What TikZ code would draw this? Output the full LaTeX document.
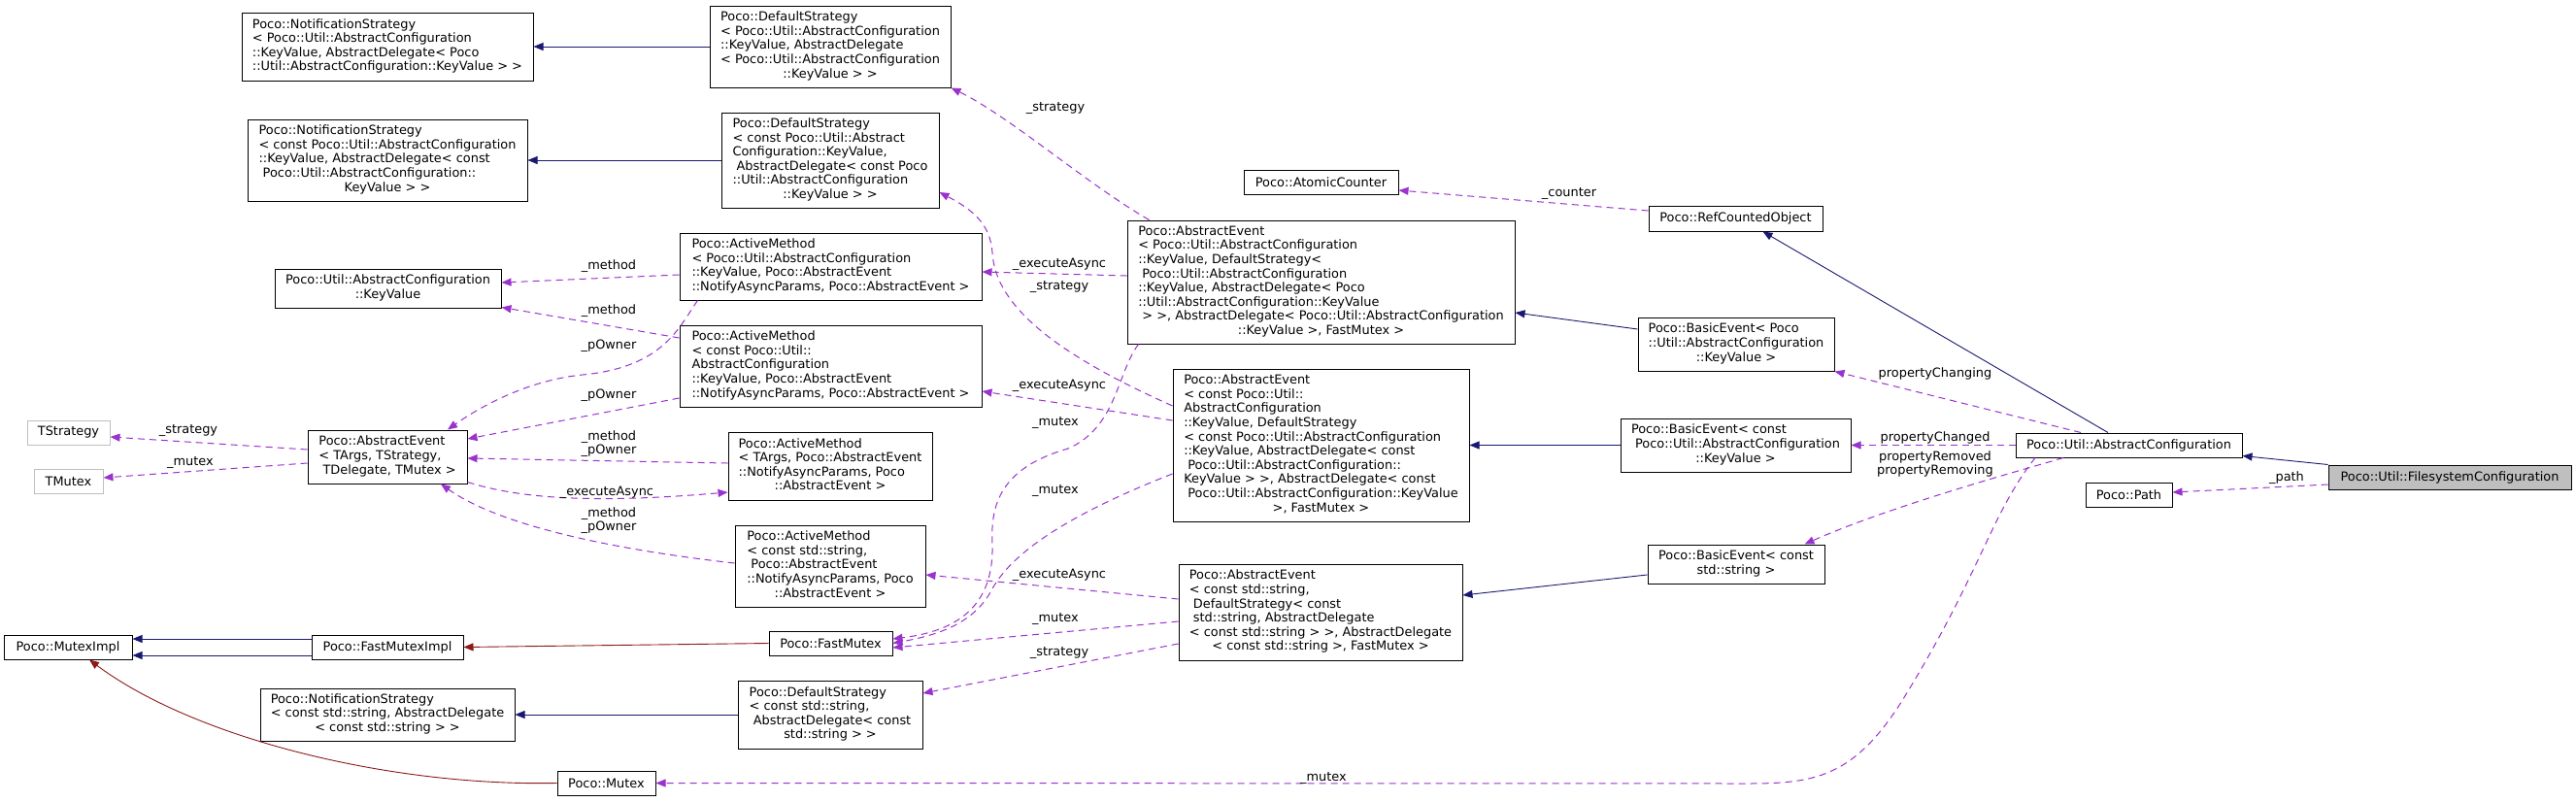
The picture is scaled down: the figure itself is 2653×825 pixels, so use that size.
\documentclass[tikz,border=0pt]{standalone}
\usepackage{fontspec}
\setmainfont{DejaVu Sans}
\usetikzlibrary{arrows.meta,calc}
\definecolor{edgeblue}{RGB}{25,25,112}
\definecolor{edgered}{RGB}{139,26,26}
\definecolor{edgepurple}{RGB}{154,50,205}
\definecolor{grayb}{RGB}{191,191,191}
\newcommand\lc[1]{\multicolumn{1}{@{}c@{}}{#1}}
\newcommand\tb[1]{\begin{tabular}{@{}l@{}}#1\end{tabular}}
\tikzset{
  cls/.style={draw=black, line width=1pt, fill=white, inner sep=0pt, font=\fontsize{12.9}{14.6}\selectfont},
  ext/.style={cls, draw=grayb},
  lbl/.style={inner sep=0pt, font=\fontsize{12.9}{14}\selectfont, align=center},
  inh/.style={draw=edgeblue, line width=0.9pt, -{Triangle[length=10pt,width=8pt]}},
  priv/.style={draw=edgered, line width=0.9pt, -{Triangle[length=10pt,width=8pt]}},
  use/.style={draw=edgepurple, line width=1pt, dash pattern=on 7pt off 5pt, -{Triangle[length=10pt,width=8pt]}},
}
\begin{document}
\begin{tikzpicture}[x=1pt,y=-1pt]
\useasboundingbox (0,0) rectangle (2653,825);
\fill[white] (0,0) rectangle (2653,825);
% column 1
\node[cls, minimum width=300pt, minimum height=70pt] (NS1) at (399,48) {\tb{Poco::NotificationStrategy\\< Poco::Util::AbstractConfiguration\\::KeyValue, AbstractDelegate< Poco\\::Util::AbstractConfiguration::KeyValue > >}};
\node[cls, minimum width=288pt, minimum height=84pt] (NS2) at (399,165) {\tb{Poco::NotificationStrategy\\< const Poco::Util::AbstractConfiguration\\::KeyValue, AbstractDelegate< const\\\ Poco::Util::AbstractConfiguration::\\\lc{KeyValue > >}}};
\node[cls, minimum width=233pt, minimum height=40pt] (KV) at (399.5,297) {\tb{Poco::Util::AbstractConfiguration\\\lc{::KeyValue}}};
\node[ext, minimum width=85pt, minimum height=25pt] (TS) at (70.5,445.5) {TStrategy};
\node[ext, minimum width=71pt, minimum height=25pt] (TM) at (70.5,496) {TMutex};
\node[cls, minimum width=164pt, minimum height=55pt] (AET) at (399,470.5) {\tb{Poco::AbstractEvent\\< TArgs, TStrategy,\\\lc{\ TDelegate, TMutex >}}};
\node[cls, minimum width=132pt, minimum height=25pt] (MI) at (70,666.5) {Poco::MutexImpl};
\node[cls, minimum width=156pt, minimum height=25pt] (FMI) at (399,666.5) {Poco::FastMutexImpl};
\node[cls, minimum width=262pt, minimum height=54pt] (NS3) at (399,736) {\tb{Poco::NotificationStrategy\\< const std::string, AbstractDelegate\\\lc{< const std::string > >}}};
\node[cls, minimum width=101pt, minimum height=25pt] (MX) at (624.5,806.5) {Poco::Mutex};
% column 2
\node[cls, minimum width=248pt, minimum height=84pt] (DS1) at (855,48) {\tb{Poco::DefaultStrategy\\< Poco::Util::AbstractConfiguration\\::KeyValue, AbstractDelegate\\< Poco::Util::AbstractConfiguration\\\lc{::KeyValue > >}}};
\node[cls, minimum width=224pt, minimum height=98pt] (DS2) at (855,165) {\tb{Poco::DefaultStrategy\\< const Poco::Util::Abstract\\Configuration::KeyValue,\\\ AbstractDelegate< const Poco\\::Util::AbstractConfiguration\\\lc{::KeyValue > >}}};
\node[cls, minimum width=311pt, minimum height=69pt] (AM1) at (855.5,274.5) {\tb{Poco::ActiveMethod\\< Poco::Util::AbstractConfiguration\\::KeyValue, Poco::AbstractEvent\\::NotifyAsyncParams, Poco::AbstractEvent >}};
\node[cls, minimum width=311pt, minimum height=84pt] (AM2) at (855.5,377) {\tb{Poco::ActiveMethod\\< const Poco::Util::\\AbstractConfiguration\\::KeyValue, Poco::AbstractEvent\\::NotifyAsyncParams, Poco::AbstractEvent >}};
\node[cls, minimum width=210pt, minimum height=70pt] (AM3) at (855,480) {\tb{Poco::ActiveMethod\\< TArgs, Poco::AbstractEvent\\::NotifyAsyncParams, Poco\\\lc{::AbstractEvent >}}};
\node[cls, minimum width=196pt, minimum height=84pt] (AM4) at (855,583) {\tb{Poco::ActiveMethod\\< const std::string,\\\ Poco::AbstractEvent\\::NotifyAsyncParams, Poco\\\lc{::AbstractEvent >}}};
\node[cls, minimum width=127pt, minimum height=25pt] (FM) at (855.5,662.5) {Poco::FastMutex};
\node[cls, minimum width=190pt, minimum height=70pt] (DS3) at (855,736) {\tb{Poco::DefaultStrategy\\< const std::string,\\\ AbstractDelegate< const\\\lc{std::string > >}}};
% column 3
\node[cls, minimum width=159pt, minimum height=25pt] (ACN) at (1360.5,188) {Poco::AtomicCounter};
\node[cls, minimum width=399pt, minimum height=127pt] (AE1) at (1360.5,290.5) {\tb{Poco::AbstractEvent\\< Poco::Util::AbstractConfiguration\\::KeyValue, DefaultStrategy<\\\ Poco::Util::AbstractConfiguration\\::KeyValue, AbstractDelegate< Poco\\::Util::AbstractConfiguration::KeyValue\\\ > >, AbstractDelegate< Poco::Util::AbstractConfiguration\\\lc{::KeyValue >, FastMutex >}}};
\node[cls, minimum width=305pt, minimum height=157pt] (AE2) at (1360.5,458.5) {\tb{Poco::AbstractEvent\\< const Poco::Util::\\AbstractConfiguration\\::KeyValue, DefaultStrategy\\< const Poco::Util::AbstractConfiguration\\::KeyValue, AbstractDelegate< const\\\ Poco::Util::AbstractConfiguration::\\KeyValue > >, AbstractDelegate< const\\\ Poco::Util::AbstractConfiguration::KeyValue\\\lc{>, FastMutex >}}};
\node[cls, minimum width=292pt, minimum height=99pt] (AE3) at (1360,630.5) {\tb{Poco::AbstractEvent\\< const std::string,\\\ DefaultStrategy< const\\\ std::string, AbstractDelegate\\< const std::string > >, AbstractDelegate\\\lc{< const std::string >, FastMutex >}}};
% column 4
\node[cls, minimum width=179pt, minimum height=26pt] (RCO) at (1787.5,225) {Poco::RefCountedObject};
\node[cls, minimum width=202pt, minimum height=55pt] (BE1) at (1788,354.5) {\tb{Poco::BasicEvent< Poco\\::Util::AbstractConfiguration\\\lc{::KeyValue >}}};
\node[cls, minimum width=237pt, minimum height=55pt] (BE2) at (1787.5,458.5) {\tb{Poco::BasicEvent< const\\\ Poco::Util::AbstractConfiguration\\\lc{::KeyValue >}}};
\node[cls, minimum width=182pt, minimum height=40pt] (BE3) at (1788,581) {\tb{Poco::BasicEvent< const\\\lc{std::string >}}};
% column 5/6
\node[cls, minimum width=233pt, minimum height=25pt] (AC) at (2192.5,458.5) {Poco::Util::AbstractConfiguration};
\node[cls, minimum width=89pt, minimum height=25pt] (PA) at (2192.5,509.5) {Poco::Path};
\node[cls, fill=grayb, minimum width=250pt, minimum height=25pt] (FC) at (2523,491.5) {Poco::Util::FilesystemConfiguration};

% inheritance edges
\draw[inh] (DS1.west) -- (NS1.east);
\draw[inh] (DS2.west) -- (NS2.east);
\draw[inh] (DS3.west) -- (NS3.east);
\draw[inh] ($(BE1.west)+(0,-15.5)$) -- ($(AE1.east)+(0,31.5)$);
\draw[inh] (BE2.west) -- (AE2.east);
\draw[inh] ($(BE3.west)+(0,11)$) -- ($(AE3.east)+(0,-17.5)$);
\draw[inh] ($(AC.north)+(-21.5,0)$) -- ($(RCO.south)+(28,0)$);
\draw[inh] (FC.north west) -- ($(AC.south east)+(0,-2)$);
\draw[inh] ($(FMI.west)+(0,-8.5)$) -- ($(MI.east)+(0,-8.5)$);
\draw[inh] ($(FMI.west)+(0,8.5)$) -- ($(MI.east)+(0,8.5)$);
\draw[priv] (FM.west) -- (FMI.east);
\draw[priv] (MX.west) .. controls (400,810) and (200,760) .. ($(MI.south)+(22,0)$);

% usage edges
\draw[use] ($(AET.west)+(0,-7.5)$) -- ($(TS.east)+(0,4.5)$);
\draw[use] ($(AET.west)+(0,6.5)$) -- ($(TM.east)+(0,-4)$);
\draw[use] ($(AM1.west)+(0,8.5)$) -- ($(KV.east)+(0,-6)$);
\draw[use] ($(AM2.west)+(0,-29)$) -- ($(KV.south east)+(0,-1)$);
\draw[use] ($(AM1.south west)+(19,0)$) .. controls (700,335) and (685,378) .. (600,386) .. controls (540,392) and (490,422) .. ($(AET.north)+(62,0)$);
\draw[use] ($(AM2.west)+(0,33)$) -- ($(AET.east)+(0,-18.5)$);
\draw[use] ($(AM3.west)+(0,-3)$) -- ($(AET.east)+(0,1.5)$);
\draw[use] ($(AET.south east)+(0,-2)$) .. controls (540,515) and (620,518) .. ($(AM3.west)+(0,27)$);
\draw[use] ($(AM4.west)+(0,-3)$) .. controls (650,568) and (520,545) .. ($(AET.south)+(55,0)$);
\draw[use] ($(AE1.north west)+(23,0)$) .. controls (1120,190) and (1040,120) .. (DS1.south east);
\draw[use] ($(AE1.west)+(0,-6.5)$) -- ($(AM1.east)+(0,5.5)$);
\draw[use] ($(AE2.west)+(0,-40.5)$) .. controls (1100,370) and (1025,320) .. (1022,260) .. controls (1020,230) and (1000,215) .. ($(DS2.east)+(0,33)$);
\draw[use] ($(AE2.west)+(0,-25.5)$) -- ($(AM2.east)+(0,26)$);
\draw[use] ($(AE1.south west)+(12,0)$) .. controls (1150,385) and (1150,440) .. (1100,462) .. controls (1030,482) and (1020,520) .. (1022,560) .. controls (1024,625) and (985,650) .. ($(FM.east)+(0,-4.5)$);
\draw[use] ($(AE2.west)+(0,29.5)$) .. controls (1100,530) and (1040,570) .. (1020,610) .. controls (1000,645) and (960,655) .. (FM.east);
\draw[use] ($(AE3.west)+(0,9.5)$) -- ($(FM.east)+(0,4.5)$);
\draw[use] ($(AE3.west)+(0,-13.5)$) -- ($(AM4.east)+(0,9)$);
\draw[use] ($(AE3.west)+(0,32.5)$) -- ($(DS3.east)+(0,-22)$);
\draw[use] ($(RCO.west)+(0,-8)$) -- ($(ACN.east)+(0,8)$);
\draw[use] ($(AC.north)+(-49.5,0)$) -- (BE1.south east);
\draw[use] (AC.west) -- (BE2.east);
\draw[use] ($(AC.south)+(-67.5,0)$) .. controls (2090,482) and (1950,520) .. ($(BE3.north east)+(-21,0)$);
\draw[use] ($(AC.south)+(-96.5,0)$) .. controls (2050,530) and (2040,590) .. (1960,720) .. controls (1910,800) and (1870,807) .. (1800,807) -- (MX.east);
\draw[use] ($(FC.west)+(0,7.5)$) -- ($(PA.east)+(0,-2.5)$);

% labels
\node[lbl] (l1) at (194,443) {\_strategy};
\node[lbl] (l2) at (196,476) {\_mutex};
\node[lbl] (l3) at (627,274) {\_method};
\node[lbl] (l4) at (627,320) {\_method};
\node[lbl] (l5) at (627,356) {\_pOwner};
\node[lbl] (l6) at (627,407) {\_pOwner};
\node[lbl] (l7) at (627,457) {\_method\\\_pOwner};
\node[lbl] (l8) at (625,507) {\_executeAsync};
\node[lbl] (l9) at (627,536) {\_method\\\_pOwner};
\node[lbl] (l10) at (1087,111) {\_strategy};
\node[lbl] (l11) at (1091,272) {\_executeAsync};
\node[lbl] (l12) at (1091,295) {\_strategy};
\node[lbl] (l13) at (1091,397) {\_executeAsync};
\node[lbl] (l14) at (1087,435) {\_mutex};
\node[lbl] (l15) at (1087,505) {\_mutex};
\node[lbl] (l16) at (1091,592) {\_executeAsync};
\node[lbl] (l17) at (1087,637) {\_mutex};
\node[lbl] (l18) at (1091,672) {\_strategy};
\node[lbl] (l19) at (1363,801) {\_mutex};
\node[lbl] (l20) at (1616,199) {\_counter};
\node[lbl] (l21) at (1993,385) {propertyChanging};
\node[lbl] (l22) at (1993,451) {propertyChanged};
\node[lbl] (l23) at (1993,478) {propertyRemoved\\propertyRemoving};
\node[lbl] (l24) at (2355,492) {\_path};
\end{tikzpicture}
\end{document}
